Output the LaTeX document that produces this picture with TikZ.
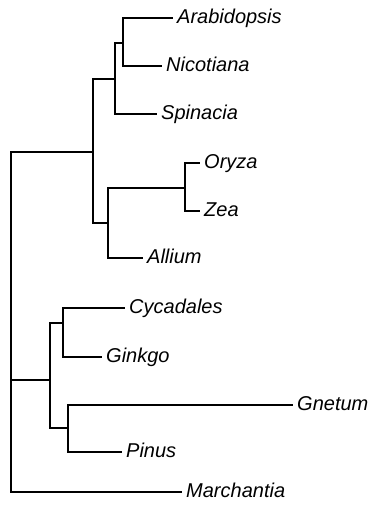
\documentclass[tikz,border=0pt]{standalone}
\usepackage{fontspec}
\setmainfont{Liberation Sans}
\begin{document}
\begin{tikzpicture}[x=1pt,y=-1pt,
  br/.style={line width=1.3pt},
  leaf/.style={anchor=west, inner xsep=4pt, inner ysep=0pt, text height=15pt, text depth=4pt, font=\fontsize{20}{22}\selectfont\itshape}]
\useasboundingbox (0,0) rectangle (371,509);
% internal nodes
\coordinate (root) at (11,380);
\coordinate (nAng) at (93,152);
\coordinate (nANS) at (115,79);
\coordinate (nAN) at (123,43);
\coordinate (nOZA) at (108,223);
\coordinate (nOZ) at (185,188);
\coordinate (nGym) at (50,380);
\coordinate (nCG) at (63,323);
\coordinate (nGP) at (68,428);
% leaves
\node[leaf] (arab) at (173,18) {Arabidopsis};
\node[leaf] (nico) at (162,66) {Nicotiana};
\node[leaf] (spin) at (157,114) {Spinacia};
\node[leaf] (oryz) at (200,163) {Oryza};
\node[leaf] (zea) at (200,211) {Zea};
\node[leaf] (alli) at (143,258) {Allium};
\node[leaf] (cyca) at (125,308) {Cycadales};
\node[leaf] (gink) at (102,357) {Ginkgo};
\node[leaf] (gnet) at (293,405) {Gnetum};
\node[leaf] (pinu) at (122,452) {Pinus};
\node[leaf] (marc) at (182,492) {Marchantia};
% branches
\draw[br] (nAN) |- (arab.west);
\draw[br] (nAN) |- (nico.west);
\draw[br] (nANS) |- (nAN);
\draw[br] (nANS) |- (spin.west);
\draw[br] (nOZ) |- (oryz.west);
\draw[br] (nOZ) |- (zea.west);
\draw[br] (nOZA) |- (nOZ);
\draw[br] (nOZA) |- (alli.west);
\draw[br] (nAng) |- (nANS);
\draw[br] (nAng) |- (nOZA);
\draw[br] (nCG) |- (cyca.west);
\draw[br] (nCG) |- (gink.west);
\draw[br] (nGP) |- (gnet.west);
\draw[br] (nGP) |- (pinu.west);
\draw[br] (nGym) |- (nCG);
\draw[br] (nGym) |- (nGP);
\draw[br] (root) |- (nAng);
\draw[br] (root) |- (nGym);
\draw[br] (root) |- (marc.west);
\end{tikzpicture}
\end{document}
